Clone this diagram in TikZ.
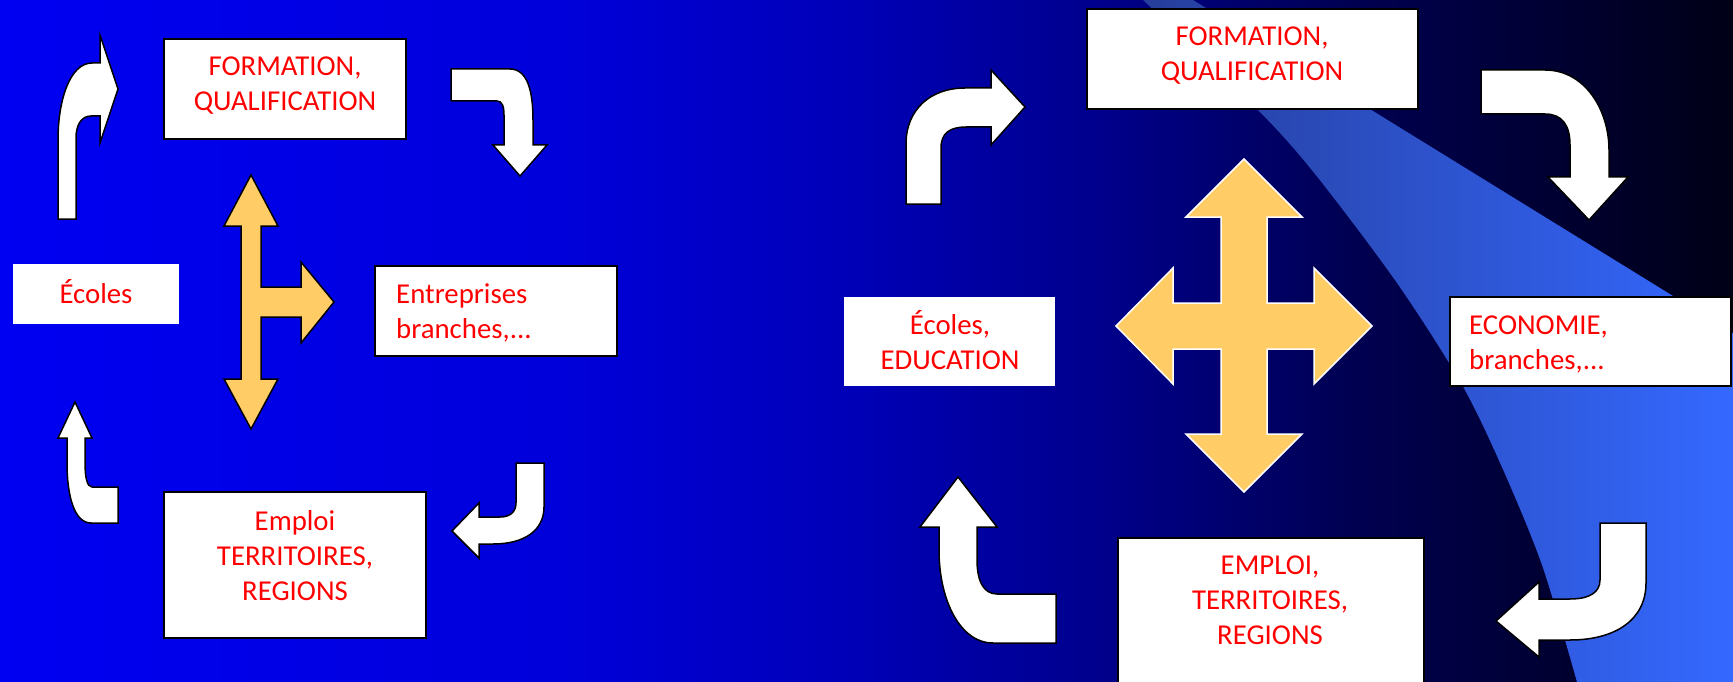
\documentclass[tikz,border=0pt]{standalone}
\usepackage{fontspec}
\newfontfamily\boxfont{Carlito}
\definecolor{bgA}{RGB}{0,0,242}
\definecolor{bgB}{RGB}{0,0,218}
\definecolor{bgC}{RGB}{0,0,182}
\definecolor{bgD}{RGB}{0,0,140}
\definecolor{bgE}{RGB}{0,0,82}
\definecolor{bgF}{RGB}{0,0,22}
\definecolor{bandL}{RGB}{38,62,155}
\definecolor{bandM}{RGB}{48,92,222}
\definecolor{bandR}{RGB}{52,104,255}
\definecolor{orangefill}{RGB}{255,204,102}
\definecolor{txtred}{RGB}{255,0,0}
\begin{document}
\begin{tikzpicture}[x=1pt,y=-1pt,
  box/.style={draw=black, line width=1.5pt, fill=white, inner sep=0pt, rectangle},
  plainbox/.style={fill=white, draw=none, inner sep=0pt, rectangle},
  lbl/.style={text=txtred, inner sep=0pt, font=\boxfont\fontsize{28.8}{35}\selectfont},
  warrow/.style={fill=white, draw=black, line width=1.5pt, line join=miter},
  oarrowL/.style={fill=orangefill, draw=black, line width=1.5pt, line join=miter},
  oarrowR/.style={fill=orangefill, draw=white, line width=1.5pt, line join=miter}]
\useasboundingbox (0,0) rectangle (1733,682);
\clip (0,0) rectangle (1733,682);
% background gradient
\fill[left color=bgA, right color=bgB] (0,0) rectangle (561,682);
\fill[left color=bgB, right color=bgC] (560,0) rectangle (861,682);
\fill[left color=bgC, right color=bgD] (860,0) rectangle (1101,682);
\fill[left color=bgD, right color=bgE] (1100,0) rectangle (1351,682);
\fill[left color=bgE, right color=bgF] (1350,0) rectangle (1733,682);
% light band
\shade[left color=bandL, middle color=bandM, right color=bandR]
  (1193,0) -- (1733,333) -- (1733,682)
  -- plot[smooth] coordinates {(1577,682) (1542,565) (1501,465) (1461,383) (1397,283) (1315,174) (1257,109) (1143,0)}
  -- cycle;

% ===== left panel =====
\node[box, minimum width=242pt, minimum height=100pt] (formL) at (285,89) {};
\node[lbl, anchor=base] (formLt) at (285,76) {\begin{tabular}[t]{@{}c@{}}FORMATION,\\QUALIFICATION\end{tabular}};
\node[plainbox, minimum width=166pt, minimum height=60pt] (ecolesL) at (96,294) {};
\node[lbl, anchor=base] (ecolesLt) at (96,303) {Écoles};
\node[box, minimum width=242pt, minimum height=90pt] (entrL) at (496,311) {};
\node[lbl, anchor=base west] (entrLt) at (396,303) {\begin{tabular}[t]{@{}l@{}}Entreprises\\branches,...\end{tabular}};
\node[box, minimum width=262pt, minimum height=146pt] (emplL) at (295,565) {};
\node[lbl, anchor=base] (emplLt) at (295,530) {\begin{tabular}[t]{@{}c@{}}Emploi\\TERRITOIRES,\\REGIONS\end{tabular}};

% white curved arrows, left panel
\draw[warrow] (58,219) -- (58,140) .. controls (58,100) and (70,63) .. (92,63) -- (100,63) -- (100,35)
  -- (118,89) -- (100,143) -- (100,116) -- (91,116) .. controls (82,116) and (76,124) .. (76,138) -- (76,219) -- cycle;
\draw[warrow] (451,69) -- (510,69) .. controls (527,69) and (533,90) .. (533,120) -- (533,145) -- (547,145)
  -- (520,176) -- (493,145) -- (504,145) -- (504,115) .. controls (504,106) and (502,101) .. (497,101) -- (451,101) -- cycle;
\draw[warrow] (516,463) -- (544,463) -- (544,507) .. controls (544,530) and (525,544) .. (493,544) -- (479,544) -- (479,558)
  -- (452,531) -- (479,503) -- (479,517) -- (500,517) .. controls (510,517) and (516,512) .. (516,503) -- cycle;
\draw[warrow] (118,487) -- (118,523) -- (91,523) .. controls (74,523) and (67,495) .. (67,463) -- (67,438) -- (58,438)
  -- (75,402) -- (92,438) -- (85,438) -- (85,463) .. controls (85,477) and (87,487) .. (92,487) -- cycle;

% orange T arrow
\draw[oarrowL] (251,175) -- (278,226) -- (261,226) -- (261,287) -- (301,287) -- (301,262) -- (334,302)
  -- (301,343) -- (301,317) -- (261,317) -- (261,379) -- (278,379) -- (251,429) -- (224,379)
  -- (241,379) -- (241,226) -- (224,226) -- cycle;

% ===== right panel =====
\node[box, minimum width=331pt, minimum height=100pt] (formR) at (1252.5,59) {};
\node[lbl, anchor=base] (formRt) at (1252,46) {\begin{tabular}[t]{@{}c@{}}FORMATION,\\QUALIFICATION\end{tabular}};
\node[plainbox, minimum width=211pt, minimum height=89pt] (ecolesR) at (949.5,341.5) {};
\node[lbl, anchor=base] (ecolesRt) at (950,334) {\begin{tabular}[t]{@{}c@{}}Écoles,\\EDUCATION\end{tabular}};
\node[box, minimum width=281pt, minimum height=89pt] (econR) at (1590.5,341.5) {};
\node[lbl, anchor=base west] (econRt) at (1469,334) {\begin{tabular}[t]{@{}l@{}}ECONOMIE,\\branches,...\end{tabular}};
\node[box, minimum width=306pt, minimum height=170pt] (emplR) at (1271,623) {};
\node[lbl, anchor=base] (emplRt) at (1270,574) {\begin{tabular}[t]{@{}c@{}}EMPLOI,\\TERRITOIRES,\\REGIONS\end{tabular}};

% white curved arrows, right panel
\draw[warrow] (906,204) -- (906,144) .. controls (906,110) and (930,88) .. (965,88) -- (991,88) -- (991,70)
  -- (1025,107) -- (991,145) -- (991,127) -- (966,127) .. controls (950,127) and (941,133) .. (941,148) -- (941,204) -- cycle;
\draw[warrow] (1481,70) -- (1545,70) .. controls (1585,70) and (1609,110) .. (1609,150) -- (1609,177) -- (1628,177)
  -- (1589,220) -- (1548,177) -- (1570,177) -- (1570,145) .. controls (1570,125) and (1562,114) .. (1545,114) -- (1481,114) -- cycle;
\draw[warrow] (1600,523) -- (1646,523) -- (1646,583) .. controls (1646,620) and (1615,640) .. (1570,640) -- (1539,640) -- (1539,657)
  -- (1496,621) -- (1539,582) -- (1539,599) -- (1570,599) .. controls (1590,599) and (1600,592) .. (1600,580) -- cycle;
\draw[warrow] (1056,594) -- (1056,643) -- (993,643) .. controls (960,643) and (939,600) .. (939,550) -- (939,527) -- (920,527)
  -- (958,477) -- (997,527) -- (977,527) -- (977,560) .. controls (977,580) and (983,594) .. (997,594) -- cycle;

% orange cross arrow
\draw[oarrowR] (1244,159) -- (1302,217) -- (1267,217) -- (1267,303) -- (1314,303) -- (1314,268) -- (1372,326)
  -- (1314,384) -- (1314,349) -- (1267,349) -- (1267,434) -- (1302,434) -- (1244,492) -- (1186,434)
  -- (1221,434) -- (1221,349) -- (1173,349) -- (1173,384) -- (1116,326) -- (1173,268) -- (1173,303)
  -- (1221,303) -- (1221,217) -- (1186,217) -- cycle;
\end{tikzpicture}
\end{document}
